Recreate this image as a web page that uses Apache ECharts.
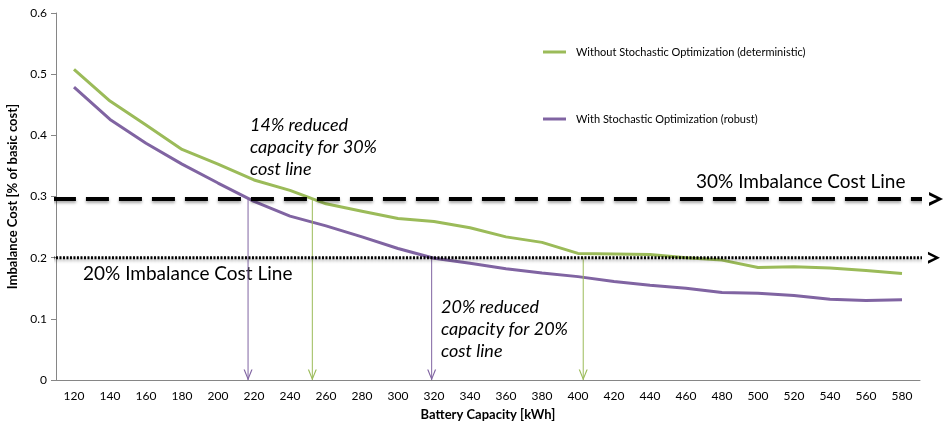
<!DOCTYPE html>
<html>
<head>
<meta charset="utf-8">
<title>Imbalance Cost vs Battery Capacity</title>
<script src="https://cdn.jsdelivr.net/npm/echarts@6/dist/echarts.min.js"></script>
<style>
  html, body { margin: 0; padding: 0; background: #fff; }
  .box { width: 947px; height: 424px; }
</style>
</head>
<body>
<div class="box"></div>
<script>
// battery capacities on the x axis (kWh)
var capacity = ["120", "140", "160", "180", "200", "220", "240", "260", "280", "300", "320", "340",
                "360", "380", "400", "420", "440", "460", "480", "500", "520", "540", "560", "580"];
// imbalance cost, without stochastic optimization
var deterministic = [0.508, 0.456, 0.417, 0.377, 0.353, 0.327, 0.310, 0.288, 0.276, 0.264, 0.259, 0.249,
                     0.234, 0.225, 0.207, 0.206, 0.205, 0.200, 0.196, 0.184, 0.185, 0.183, 0.179, 0.174];
// imbalance cost, with stochastic optimization
var robust = [0.479, 0.426, 0.387, 0.353, 0.322, 0.292, 0.268, 0.252, 0.234, 0.215, 0.199, 0.191,
              0.182, 0.175, 0.169, 0.161, 0.155, 0.150, 0.143, 0.142, 0.138, 0.132, 0.130, 0.131];
// 30% and 20% imbalance cost lines, as drawn
var costLines = [0.296, 0.2];
// capacities where each curve meets a cost line (robust 30%, deterministic 30%, robust 20%, deterministic 20%)
var crossCapacity = [216.7, 252.4, 318.7, 402.9];
var crossCost = [0.296, 0.296, 0.2, 0.2];
var yTicks = { min: 0, max: 0.6, step: 0.1 };

(function () {
    var myChart = echarts.init(document.querySelector(".box"));

    var font = "Lato, 'Open Sans', sans-serif";
    var green = "#9BBB59";
    var purple = "#8064A2";
    var axisGrey = "#868686";

    // open arrow heads
    var arrowDown = "path://M0,0 L5,10 L10,0 L8.6,0 L5,7.4 L1.4,0 Z";
    var arrowRight = "path://M0,0 L10,8 L0,16 L0,12.2 L5.6,8 L0,3.8 Z";

    // hidden value axis lying exactly over the category bands (120 is the centre of the first band)
    var bandStep = 20;
    var vMin = Number(capacity[0]) - bandStep / 2;
    var vMax = Number(capacity[capacity.length - 1]) + bandStep / 2;

    function costLine(name, y, dash, width, x0, x1, headSize) {
        return {
            name: name,
            type: "line",
            xAxisIndex: 1,
            clip: false,
            silent: true,
            showAllSymbol: true,
            symbol: arrowRight,
            symbolSize: headSize,
            symbolOffset: [-headSize[0] / 2, 0],
            itemStyle: { color: "#000" },
            lineStyle: {
                color: "#000", width: width, type: dash,
                shadowColor: "rgba(0,0,0,0.35)", shadowBlur: 3, shadowOffsetY: 2
            },
            emphasis: { disabled: true },
            data: [{ value: [x0, y], symbol: "none" }, { value: [x1, y] }],
            z: 4
        };
    }

    function dropArrow(i, color) {
        return {
            name: "drop" + i,
            type: "line",
            xAxisIndex: 1,
            clip: false,
            silent: true,
            showAllSymbol: true,
            symbol: arrowDown,
            symbolSize: [9, 11],
            symbolOffset: [0, -5],
            itemStyle: { color: color },
            lineStyle: { color: color, width: 1 },
            emphasis: { disabled: true },
            data: [{ value: [crossCapacity[i], crossCost[i]], symbol: "none" }, { value: [crossCapacity[i], 0] }],
            z: 3
        };
    }

    var noteStyle = { fontFamily: font, fontSize: 18, fontStyle: "italic", fill: "#000", lineHeight: 22 };
    var bigStyle = { fontFamily: font, fontSize: 19, fill: "#000" };

    option = {
        animation: false,
        backgroundColor: "#fff",
        grid: { left: 56, right: 27, top: 13, bottom: 44, outerBoundsMode: "none", containLabel: false },
        legend: {
            orient: "vertical",
            left: 538,
            top: 40,
            itemGap: 53,
            icon: "rect",
            itemWidth: 23,
            itemHeight: 3,
            data: ["Without Stochastic Optimization (deterministic)", "With Stochastic Optimization (robust)"],
            textStyle: { fontFamily: font, fontSize: 11, color: "#000", padding: [0, 0, 0, 5], lineHeight: 14 }
        },
        xAxis: [
            {
                type: "category",
                data: capacity,
                boundaryGap: true,
                name: "Battery Capacity [kWh]",
                nameLocation: "middle",
                nameGap: 28,
                nameTextStyle: { fontFamily: font, fontSize: 13, fontWeight: "bold", color: "#000" },
                axisLine: { lineStyle: { color: axisGrey } },
                axisTick: { length: 5, lineStyle: { color: axisGrey } },
                axisLabel: { fontFamily: font, fontSize: 12, color: "#000", margin: 10, interval: 0 },
                splitLine: { show: false }
            },
            { type: "value", show: false, min: vMin, max: vMax }
        ],
        yAxis: {
            type: "value",
            min: yTicks.min,
            max: yTicks.max,
            interval: yTicks.step,
            name: "Imbalance Cost [% of basic cost]",
            nameLocation: "middle",
            nameGap: 35,
            nameTextStyle: { fontFamily: font, fontSize: 13, fontWeight: "bold", color: "#000" },
            axisLine: { show: true, lineStyle: { color: axisGrey } },
            axisTick: { show: true, length: 5, lineStyle: { color: axisGrey } },
            axisLabel: { fontFamily: font, fontSize: 12, color: "#000", margin: 9 },
            splitLine: { show: false }
        },
        series: [
            {
                name: "Without Stochastic Optimization (deterministic)",
                type: "line",
                data: deterministic,
                symbol: "none",
                color: green,
                lineStyle: { width: 3, color: green },
                z: 2
            },
            {
                name: "With Stochastic Optimization (robust)",
                type: "line",
                data: robust,
                symbol: "none",
                color: purple,
                lineStyle: { width: 3, color: purple },
                z: 2
            },
            costLine("30% line", costLines[0], [23, 10], 4, vMin - 1.7, vMax + 12.8, [14, 14]),
            costLine("20% line", costLines[1], [2, 1.5], 3, vMin - 3.9, vMax + 11.1, [12, 12]),
            dropArrow(0, purple),
            dropArrow(1, green),
            dropArrow(2, purple),
            dropArrow(3, green)
        ],
        graphic: [
            { type: "text", left: 250, top: 114, style: Object.assign({ text: "14% reduced\ncapacity for 30%\ncost line" }, noteStyle) },
            { type: "text", left: 441, top: 296, style: Object.assign({ text: "20% reduced\ncapacity for 20%\ncost line" }, noteStyle) },
            { type: "text", left: 696, top: 172, style: Object.assign({ text: "30% Imbalance Cost Line" }, bigStyle) },
            { type: "text", left: 83, top: 264, style: Object.assign({ text: "20% Imbalance Cost Line" }, bigStyle) }
        ]
    };

    myChart.setOption(option);

    window.addEventListener("resize", function () {
        myChart.resize();
    });
})();
</script>
</body>
</html>
